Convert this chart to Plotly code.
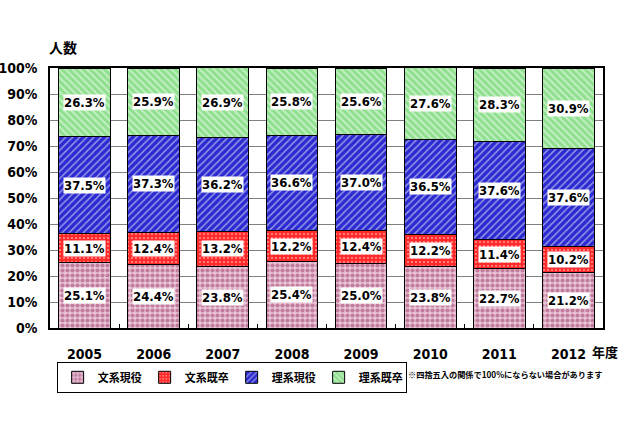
import plotly.graph_objects as go

years = ['2005', '2006', '2007', '2008', '2009', '2010', '2011', '2012']
bunkei_genneki = [25.1, 24.4, 23.8, 25.4, 25.0, 23.8, 22.7, 21.2]
bunkei_kisotsu = [11.1, 12.4, 13.2, 12.2, 12.4, 12.2, 11.4, 10.2]
riken_genneki = [37.5, 37.3, 36.2, 36.6, 37.0, 36.5, 37.6, 37.6]
riken_kisotsu = [26.3, 25.9, 26.9, 25.8, 25.6, 27.6, 28.3, 30.9]
series_names = ['文系現役', '文系既卒', '理系現役', '理系既卒']
y_ticks = [0, 10, 20, 30, 40, 50, 60, 70, 80, 90, 100]

NUM_FONT = "DejaVu Sans Condensed, Liberation Sans Narrow, Arial Narrow, Liberation Sans, Arial"
JP_FONT = "Noto Sans CJK JP, Noto Sans, sans-serif"

series = [bunkei_genneki, bunkei_kisotsu, riken_genneki, riken_kisotsu]
patterns = [
    dict(shape=".", fgcolor="#993366", bgcolor="#e8c4d6", solidity=0.55, size=5),
    dict(shape=".", fgcolor="#ffffff", bgcolor="#ff2a2a", solidity=0.2, size=4),
    dict(shape="/", fgcolor="#ffffff", bgcolor="#2a2ad0", solidity=0.3, size=5),
    dict(shape="\\", fgcolor="#ffffff", bgcolor="#8fe08f", solidity=0.35, size=5),
]

fig = go.Figure()
for name, vals, pat in zip(series_names, series, patterns):
    fig.add_trace(go.Bar(
        x=years, y=vals, name=f"<b>{name}</b>",
        marker=dict(color=pat["bgcolor"], pattern=pat,
                    line=dict(color="black", width=1)),
    ))

annotations = []
for i, yr in enumerate(years):
    base = 0.0
    for vals in series:
        v = vals[i]
        annotations.append(dict(
            x=i, y=base + v / 2, xref="x", yref="y",
            text=f"<b>{v:.1f}%</b>", showarrow=False,
            bgcolor="white", borderpad=0,
            font=dict(family=NUM_FONT, size=13, color="black"),
        ))
        base += v

annotations += [
    dict(x=0.0235, y=1.08, xref="paper", yref="paper", text="<b>人数</b>",
         xanchor="center", yanchor="middle",
         showarrow=False, font=dict(family=JP_FONT, size=14, color="black")),
    dict(x=1.004, y=-0.092, xref="paper", yref="paper", text="<b>年度</b>",
         xanchor="center", yanchor="middle",
         showarrow=False, font=dict(family=JP_FONT, size=13, color="black")),
    dict(x=0.822, y=-0.177, xref="paper", yref="paper",
         text="<b>※四捨五入の関係で100%にならない場合があります</b>",
         xanchor="center", yanchor="middle",
         showarrow=False, font=dict(family=JP_FONT, size=8.2, color="black")),
]

fig.update_layout(
    barmode="stack",
    bargap=0.25,
    width=640, height=426,
    margin=dict(l=50, r=37, t=68, b=98, autoexpand=False),
    paper_bgcolor="white", plot_bgcolor="white",
    annotations=annotations,
    showlegend=True,
    legend=dict(orientation="h", x=0.012, y=-0.13, xanchor="left", yanchor="top",
                traceorder="normal",
                bordercolor="black", borderwidth=1, bgcolor="white",
                font=dict(family=JP_FONT, size=11, color="black"),
                entrywidth=42, entrywidthmode="pixels",
                tracegroupgap=0),
    xaxis=dict(type="category", automargin=False,
               showline=True, mirror=True, linecolor="black", linewidth=1.5,
               ticks="inside", tickson="boundaries", ticklen=4, tickcolor="black",
               showgrid=False,
               tickfont=dict(family=NUM_FONT, size=14, color="black", weight="bold"),
               ticklabelstandoff=12),
    yaxis=dict(range=[0, 100], tickvals=y_ticks, automargin=False,
               ticktext=[f"{t}%" for t in y_ticks],
               showline=True, mirror=True, linecolor="black", linewidth=1.5,
               showgrid=True, gridcolor="#808080", gridwidth=1,
               ticks="", ticklabelstandoff=8,
               tickfont=dict(family=NUM_FONT, size=14, color="black", weight="bold")),
)

fig.write_html("out.html")
